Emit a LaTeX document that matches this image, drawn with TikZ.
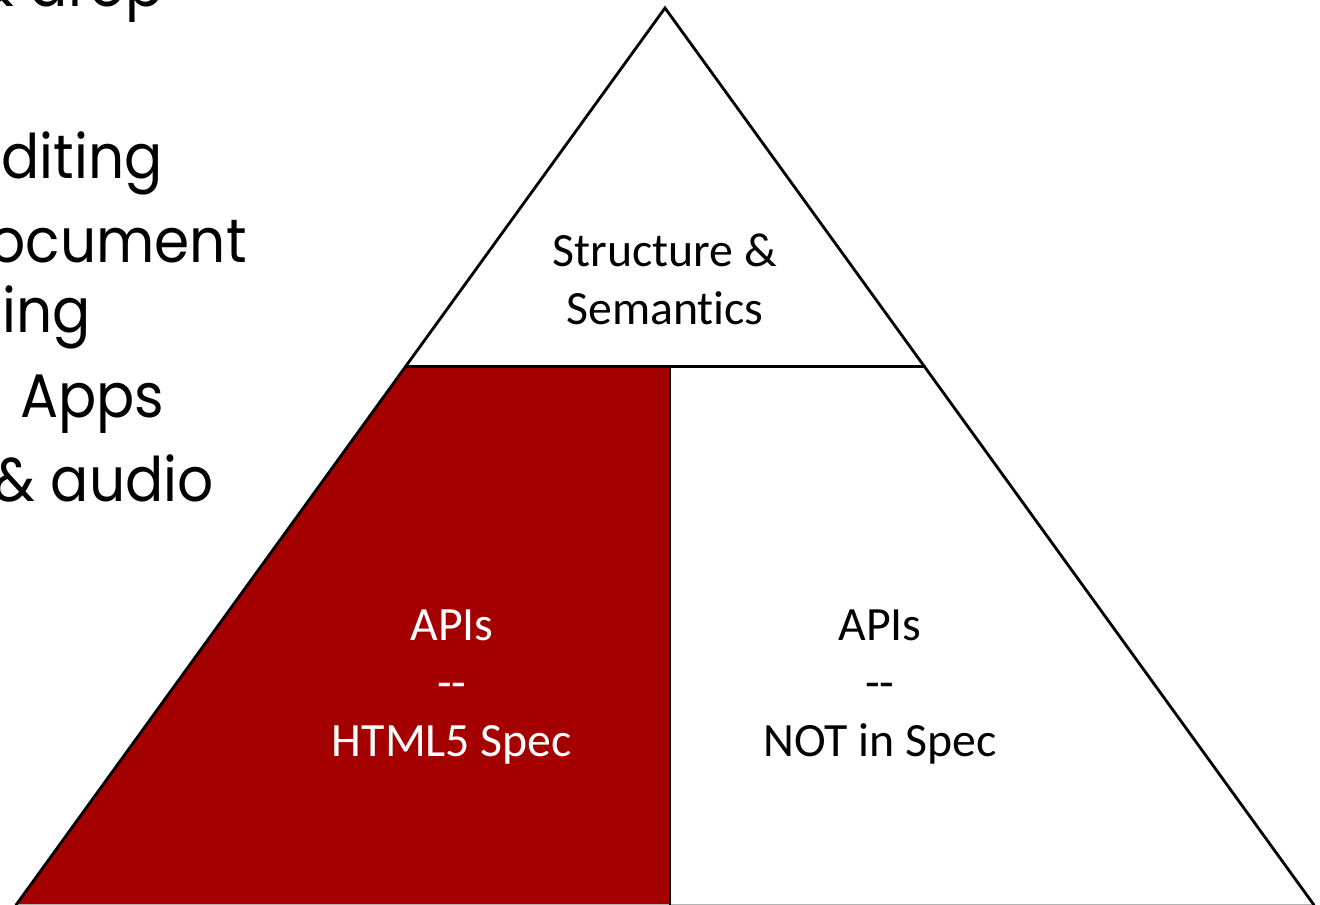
\documentclass[tikz,border=0pt]{standalone}
\usepackage{fontspec}
\usepackage{tikz}
\usetikzlibrary{calc}
\newfontfamily\calfont[Ligatures=NoCommon]{Carlito}
\newfontfamily\gothfont[FakeStretch=0.92]{Poppins}
\definecolor{htmlred}{RGB}{165,0,0}
\tikzset{edgeline/.style={line width=1.6pt, line cap=round},
	pyrlabel/.style={font=\calfont\fontsize{27.2}{32.9}\selectfont, align=center, inner sep=0pt},
	slidetext/.style={font=\gothfont\fontsize{35}{42}\selectfont, inner sep=0pt}}

\begin{document}
\begin{tikzpicture}[x=0.02cm, y=-0.02cm]
	
	\useasboundingbox (0,0) rectangle (1320,905);
	
	% pyramid corners
	\coordinate (top) at (665,8);
	\coordinate (lfoot) at (16,905);
	\coordinate (rfoot) at (1314,905);
	\coordinate (lmid) at ($(top)!0.4!(lfoot)$);
	\coordinate (rmid) at ($(top)!0.4!(rfoot)$);
	\coordinate (splittop) at (670,367);
	\coordinate (splitbot) at (670,905);
	
	\fill [htmlred] (lmid) -- (splittop) -- (splitbot) -- (lfoot) -- cycle;
	\draw [gray!60, line width=.8pt] (lfoot) -- (rfoot);
	\draw [line width=1pt] (splittop) -- (splitbot);
	\draw [edgeline] (lmid) -- (rmid);
	\draw [edgeline] (lfoot) -- (top) -- (rfoot);
	
	\node [pyrlabel] (structure) at (665,279) {Structure \&\\Semantics};
	\node [pyrlabel, text=white] (apispec) at (452,687) {APIs\\--\\HTML5 Spec};
	\node [pyrlabel] (apinot) at (880,687) {APIs\\--\\NOT in Spec};
	
	
	% slide bullets, cut at the left edge
	\begin{scope}
	\clip (0,0) rectangle (1320,905);
	\node [slidetext, anchor=base east] (dragdrop) at (164,7) {\& drop};
	\node [slidetext, anchor=base west] (editing) at (1,179) {diting};
	\node [slidetext, anchor=base east] (crossdoc) at (247,263) {document};
	\node [slidetext, anchor=base east] (messaging) at (91,333) {ging};
	\node [slidetext, anchor=base west] (webapps) at (20,418) {Apps};
	\node [slidetext, anchor=base east] (media) at (214,502) {\& audio};
	\end{scope}
	
\end{tikzpicture}
\end{document}
